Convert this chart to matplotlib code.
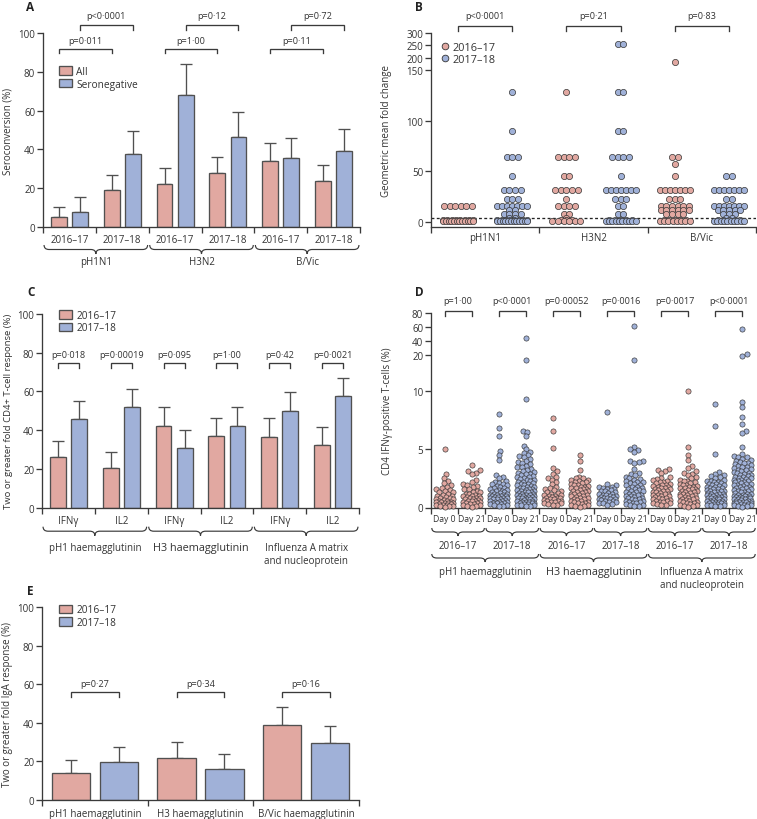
import numpy as np
import matplotlib
matplotlib.use("Agg")
import matplotlib.pyplot as plt
import matplotlib.transforms as mtransforms
from matplotlib.patches import Patch, PathPatch
from matplotlib.lines import Line2D
from matplotlib.path import Path

plt.rcParams['font.family'] = ['Open Sans', 'DejaVu Sans']
plt.rcParams['font.size'] = 7

PINK = '#E1A8A1'
BLUE = '#A0B1D8'
EDGE = '#505050'
AXC = '#3A3A3A'
TXT = '#333333'

# ---------------- data ----------------
# Panel A: seroconversion
a_categories = ['2016–17', '2017–18'] * 3
a_groups = ['pH1N1', 'H3N2', 'B/Vic']
a_all = [5.3, 19.1, 22.1, 27.9, 33.8, 23.8]
a_all_upper = [10.5, 26.7, 30.3, 36.0, 43.1, 32.1]
a_seroneg = [7.9, 37.6, 67.9, 46.6, 35.5, 39.0]
a_seroneg_upper = [15.7, 49.7, 84.0, 59.1, 45.9, 50.3]
a_p_all = ['p=0·011', 'p=1·00', 'p=0·11']
a_p_seroneg = ['p<0·0001', 'p=0·12', 'p=0·72']

# Panel B: geometric mean fold change (per subject)
b_groups = ['pH1N1', 'H3N2', 'B/Vic']
b_pvals = ['p<0·0001', 'p=0·21', 'p=0·83']
b_1617_pH1N1 = [16, 16, 16, 16, 16, 16, 2, 2, 2, 2, 2, 2, 2, 2, 1, 1, 1, 1, 1, 1, 1, 1, 1, 1, 1, 1]
b_1617_H3N2 = [128, 64, 64, 64, 64, 45, 45, 32, 32, 32, 32, 32, 22.6, 16, 16, 16, 16, 8, 8, 4,
               2, 2, 2, 1, 1, 1, 1, 1, 1]
b_1617_BVic = [181, 64, 64, 57, 45, 32, 32, 32, 32, 32, 32, 32, 22.6, 22.6, 22.6, 16, 16, 16, 16, 16, 16,
               11.3, 11.3, 11.3, 11.3, 11.3, 11.3, 8, 8, 8, 8, 2, 2, 2, 2, 2, 1, 1, 1, 1, 1, 1, 1, 1]
b_1718_pH1N1 = [128, 90, 64, 64, 64, 45, 32, 32, 32, 32, 22.6, 22.6, 22.6, 16, 16, 16, 16, 16, 16, 16,
                11.3, 11.3, 8, 8, 8, 8, 4, 4, 2, 2, 2, 2, 2, 2, 2, 2, 1, 1, 1, 1, 1, 1, 1, 1, 1, 1, 1, 1]
b_1718_H3N2 = [256, 256, 128, 128, 90, 90, 64, 64, 64, 64, 45, 32, 32, 32, 32, 32, 32, 32, 22.6, 22.6, 22.6,
               16, 16, 8, 8, 2, 2, 2, 2, 2, 1, 1, 1, 1, 1, 1, 1, 1, 1, 1]
b_1718_BVic = [45, 45, 32, 32, 32, 32, 32, 32, 32, 22.6, 22.6, 16, 16, 16, 16, 16, 16, 16,
               11.3, 11.3, 11.3, 11.3, 11.3, 8, 8, 8, 4, 4, 2, 2, 2, 2, 2, 1, 1, 1, 1, 1, 1, 1, 1, 1, 1]
b_threshold = 4

# Panel C: CD4 T-cell response
c_categories = ['IFNγ', 'IL2'] * 3
c_groups = ['pH1 haemagglutinin', 'H3 haemagglutinin', 'Influenza A matrix\nand nucleoprotein']
c_1617 = [26.0, 20.5, 42.2, 36.8, 36.7, 32.2]
c_1617_upper = [34.6, 28.9, 51.8, 46.3, 46.1, 41.5]
c_1718 = [45.6, 52.2, 31.0, 42.2, 50.1, 57.5]
c_1718_upper = [55.2, 61.4, 40.3, 51.8, 59.6, 66.8]
c_pvals = ['p=0·018', 'p=0·00019', 'p=0·095', 'p=1·00', 'p=0·42', 'p=0·0021']

# Panel D: CD4 IFNg-positive T cells (%)
d_categories = ['Day 0', 'Day 21'] * 6
d_seasons = ['2016–17', '2017–18'] * 3
d_groups = c_groups
d_pvals = ['p=1·00', 'p<0·0001', 'p=0·00052', 'p=0·0016', 'p=0·0017', 'p<0·0001']
d_pH1_1617_d0 = [5.0, 2.85, 2.5, 2.3, 2.1, 1.95, 1.8, 1.7, 1.6, 1.5, 1.4, 1.35, 1.3, 1.2, 1.1, 1.0, 0.95, 0.9,
                 0.85, 0.8, 0.75, 0.7, 0.65, 0.6, 0.55, 0.5, 0.5, 0.45, 0.4, 0.4, 0.35, 0.3, 0.3, 0.25, 0.2,
                 0.2, 0.15, 0.1, 0.1, 0.05]
d_pH1_1617_d21 = [3.65, 3.2, 3.1, 3.0, 2.85, 2.4, 2.2, 2.0, 1.9, 1.85, 1.75, 1.6, 1.55, 1.4, 1.35, 1.3, 1.2,
                  1.15, 1.1, 1.0, 1.0, 0.95, 0.9, 0.85, 0.8, 0.8, 0.75, 0.7, 0.65, 0.6, 0.6, 0.55, 0.5, 0.45,
                  0.4, 0.35, 0.3, 0.3, 0.25, 0.2, 0.15, 0.1, 0.05]
d_pH1_1718_d0 = [8.0, 6.8, 6.15, 4.85, 4.5, 4.1, 2.8, 2.6, 2.5, 2.3, 2.2, 2.1, 2.0, 2.0, 1.9, 1.85, 1.8, 1.7,
                 1.65, 1.6, 1.5, 1.5, 1.45, 1.4, 1.3, 1.3, 1.25, 1.2, 1.15, 1.1, 1.1, 1.05, 1.0, 1.0, 0.95,
                 0.9, 0.9, 0.85, 0.8, 0.8, 0.75, 0.7, 0.7, 0.65, 0.6, 0.55, 0.5, 0.5, 0.45, 0.4, 0.4, 0.35,
                 0.3, 0.3, 0.25, 0.2, 0.15, 0.1]
d_pH1_1718_d21 = [45, 18.6, 9.3, 6.6, 6.45, 6.1, 5.3, 5.0, 4.8, 4.7, 4.5, 4.4, 4.3, 4.2, 4.0, 3.9, 3.85, 3.7,
                  3.6, 3.5, 3.45, 3.3, 3.2, 3.1, 3.05, 3.0, 2.9, 2.85, 2.8, 2.7, 2.65, 2.6, 2.5, 2.45, 2.4,
                  2.35, 2.3, 2.2, 2.15, 2.1, 2.05, 2.0, 1.95, 1.9, 1.85, 1.8, 1.75, 1.7, 1.65, 1.6, 1.55, 1.5,
                  1.5, 1.45, 1.4, 1.35, 1.3, 1.3, 1.25, 1.2, 1.15, 1.1, 1.1, 1.05, 1.0, 1.0, 0.95, 0.9, 0.9,
                  0.85, 0.8, 0.8, 0.75, 0.7, 0.7, 0.65, 0.6, 0.6, 0.55, 0.5, 0.5, 0.45, 0.4, 0.4, 0.35, 0.3,
                  0.3, 0.25, 0.2, 0.2, 0.15, 0.1]
d_H3_1617_d0 = [7.65, 6.55, 5.1, 3.4, 3.1, 2.9, 2.6, 2.5, 2.4, 2.2, 2.0, 1.8, 1.7, 1.6, 1.5, 1.4, 1.3, 1.25,
                1.2, 1.1, 1.05, 1.0, 0.95, 0.9, 0.85, 0.8, 0.8, 0.75, 0.7, 0.65, 0.6, 0.6, 0.55, 0.5, 0.45,
                0.4, 0.35, 0.3, 0.25, 0.2]
d_H3_1617_d21 = [4.5, 3.95, 3.2, 2.6, 2.55, 2.5, 2.4, 2.35, 2.3, 2.2, 2.15, 2.1, 2.0, 1.95, 1.9, 1.85, 1.8,
                 1.75, 1.7, 1.65, 1.6, 1.55, 1.5, 1.45, 1.4, 1.35, 1.3, 1.25, 1.2, 1.15, 1.1, 1.05, 1.0, 0.95,
                 0.9, 0.85, 0.8, 0.75, 0.7, 0.65, 0.6, 0.55, 0.5, 0.45, 0.4, 0.35, 0.3, 0.25, 0.2, 0.15, 0.1,
                 0.05]
d_H3_1718_d0 = [8.2, 2.05, 1.95, 1.8, 1.75, 1.7, 1.6, 1.55, 1.5, 1.45, 1.4, 1.3, 1.25, 1.2, 1.15, 1.1, 1.05,
                1.0, 0.95, 0.9, 0.9, 0.85, 0.8, 0.75, 0.7, 0.7, 0.65, 0.6, 0.55, 0.5, 0.45, 0.4, 0.35, 0.3,
                0.2]
d_H3_1718_d21 = [61.5, 18.5, 5.2, 5.0, 4.95, 4.8, 4.0, 3.95, 3.9, 3.85, 3.3, 3.0, 2.9, 2.75, 2.6, 2.5, 2.45,
                 2.4, 2.3, 2.2, 2.15, 2.1, 2.0, 1.95, 1.9, 1.8, 1.75, 1.7, 1.6, 1.55, 1.5, 1.45, 1.4, 1.35,
                 1.3, 1.2, 1.15, 1.1, 1.05, 1.0, 0.95, 0.9, 0.85, 0.8, 0.75, 0.7, 0.65, 0.6, 0.55, 0.5, 0.45,
                 0.4, 0.35, 0.3, 0.25, 0.2, 0.15, 0.1]
d_MNP_1617_d0 = [3.3, 3.2, 3.1, 2.95, 2.6, 2.5, 2.45, 2.4, 2.3, 2.2, 2.15, 2.1, 2.0, 1.95, 1.9, 1.85, 1.8,
                 1.75, 1.7, 1.65, 1.6, 1.55, 1.5, 1.45, 1.4, 1.35, 1.3, 1.25, 1.2, 1.15, 1.1, 1.05, 1.0, 0.95,
                 0.9, 0.85, 0.8, 0.75, 0.7, 0.65, 0.6, 0.55, 0.5, 0.45, 0.4, 0.35, 0.3, 0.25, 0.2]
d_MNP_1617_d21 = [10.0, 5.2, 4.5, 4.05, 3.6, 3.4, 3.1, 3.0, 2.9, 2.75, 2.6, 2.5, 2.4, 2.3, 2.25, 2.2, 2.1,
                  2.0, 1.95, 1.9, 1.85, 1.8, 1.75, 1.7, 1.65, 1.6, 1.55, 1.5, 1.45, 1.4, 1.35, 1.3, 1.25, 1.2,
                  1.15, 1.1, 1.05, 1.0, 0.95, 0.9, 0.85, 0.8, 0.75, 0.7, 0.65, 0.6, 0.55, 0.5, 0.45, 0.4,
                  0.35, 0.3, 0.25, 0.2, 0.15, 0.1, 0.05]
d_MNP_1718_d0 = [8.9, 7.0, 4.55, 3.05, 2.9, 2.8, 2.7, 2.6, 2.5, 2.4, 2.3, 2.25, 2.2, 2.15, 2.1, 2.05, 2.0,
                 1.95, 1.9, 1.85, 1.8, 1.75, 1.7, 1.65, 1.6, 1.55, 1.5, 1.45, 1.4, 1.4, 1.35, 1.3, 1.25, 1.2,
                 1.2, 1.15, 1.1, 1.05, 1.0, 1.0, 0.95, 0.9, 0.9, 0.85, 0.8, 0.8, 0.75, 0.7, 0.7, 0.65, 0.6,
                 0.6, 0.55, 0.5, 0.5, 0.45, 0.4, 0.4, 0.35, 0.3, 0.3, 0.25, 0.2, 0.2, 0.15, 0.1]
d_MNP_1718_d21 = [57.8, 20.5, 19.8, 9.05, 8.65, 7.75, 7.2, 6.55, 6.4, 5.15, 4.6, 4.45, 4.35, 4.3, 4.2, 4.1,
                  4.0, 3.9, 3.85, 3.8, 3.7, 3.65, 3.6, 3.5, 3.45, 3.4, 3.3, 3.25, 3.2, 3.1, 3.05, 3.0, 2.95,
                  2.9, 2.8, 2.75, 2.7, 2.65, 2.6, 2.55, 2.5, 2.45, 2.4, 2.35, 2.3, 2.25, 2.2, 2.15, 2.1, 2.05,
                  2.0, 1.95, 1.9, 1.85, 1.8, 1.75, 1.7, 1.65, 1.6, 1.55, 1.5, 1.45, 1.4, 1.35, 1.3, 1.25, 1.2,
                  1.15, 1.1, 1.05, 1.0, 1.0, 0.95, 0.9, 0.9, 0.85, 0.8, 0.8, 0.75, 0.7, 0.7, 0.65, 0.6, 0.6,
                  0.55, 0.5, 0.5, 0.45, 0.4, 0.4, 0.35, 0.3, 0.3, 0.25, 0.2, 0.2, 0.15, 0.1, 0.05]

# Panel E: IgA response
e_categories = ['pH1 haemagglutinin', 'H3 haemagglutinin', 'B/Vic haemagglutinin']
e_1617 = [13.8, 22.0, 38.9]
e_1617_upper = [20.9, 30.3, 48.1]
e_1718 = [19.6, 16.3, 29.8]
e_1718_upper = [27.5, 23.9, 38.2]
e_pvals = ['p=0·27', 'p=0·34', 'p=0·16']

# ---------------- helpers ----------------
W, H = 757, 820
fig = plt.figure(figsize=(W / 100, H / 100), dpi=100)
fig.patch.set_facecolor('white')


def add_ax(l, t, r, b):
    return fig.add_axes([l / W, 1 - b / H, (r - l) / W, (b - t) / H])


def style(ax):
    for s in ('top', 'right'):
        ax.spines[s].set_visible(False)
    for s in ('left', 'bottom'):
        ax.spines[s].set_color(AXC)
        ax.spines[s].set_linewidth(0.95)
    ax.tick_params(axis='both', which='major', color=AXC, width=0.95, length=4.3,
                   labelsize=7, labelcolor=TXT, pad=1.3)
    ax.tick_params(axis='x', which='minor', length=0, labelsize=7, labelcolor=TXT)
    ax.set_facecolor('none')


def px_h(ax):
    return ax.get_position().height * H


def blend(ax):
    return mtransforms.blended_transform_factory(ax.transData, ax.transAxes)


def brace(ax, x0, x1, top_px, h=9.0, r=5.0):
    tr = blend(ax)
    X0 = tr.transform((x0, 0))[0]
    X1 = tr.transform((x1, 0))[0]
    Xm = 0.5 * (X0 + X1)
    Yb = ax.transAxes.transform((0, 0))[1]
    yt = Yb - top_px
    ym = yt - h * 0.5
    ytip = yt - h
    verts = [(X0, yt), (X0, ym), (X0 + r, ym), (Xm - r, ym), (Xm, ym), (Xm, ytip),
             (Xm, ym), (Xm + r, ym), (X1 - r, ym), (X1, ym), (X1, yt)]
    codes = [Path.MOVETO, Path.CURVE3, Path.CURVE3, Path.LINETO, Path.CURVE3, Path.CURVE3,
             Path.CURVE3, Path.CURVE3, Path.LINETO, Path.CURVE3, Path.CURVE3]
    vf = fig.transFigure.inverted().transform(verts)
    fig.add_artist(PathPatch(Path(vf, codes), transform=fig.transFigure, fill=False,
                             edgecolor=AXC, lw=0.85))


def label_below(ax, x, baseline_px, text, fs=7, step=13.0):
    tr = blend(ax)
    hp = px_h(ax)
    for i, line in enumerate(text.split('\n')):
        ax.text(x, -(baseline_px + i * step) / hp, line, transform=tr, ha='center',
                va='baseline', fontsize=fs, color=TXT, clip_on=False)


def bracket(ax, x0, x1, y, leg, text, ty, trans=None, fs=6.6):
    trans = trans if trans is not None else ax.transData
    ax.plot([x0, x0, x1, x1], [y - leg, y, y, y - leg], color=AXC, lw=0.95,
            transform=trans, clip_on=False, solid_joinstyle='miter')
    ax.text((x0 + x1) / 2, ty, text, ha='center', va='center', transform=trans,
            fontsize=fs, color=TXT, clip_on=False)


def bars(ax, v1, u1, v2, u2, off, width):
    n = len(v1)
    x = np.arange(n) + 0.5
    for xx, v, u, col in ((x - off, v1, u1, PINK), (x + off, v2, u2, BLUE)):
        v = np.asarray(v)
        u = np.asarray(u)
        ax.errorbar(xx, v, yerr=[np.zeros(n), u - v], fmt='none', ecolor=EDGE,
                    elinewidth=0.95, capsize=4.5, capthick=0.95, zorder=1)
        ax.bar(xx, v, width, color=col, edgecolor=EDGE, lw=0.95, zorder=2)
    return x


def cat_axis(ax, n, labels, pad):
    ax.set_xlim(0, n)
    ax.set_xticks(np.arange(n + 1))
    ax.set_xticklabels([])
    ax.set_xticks(np.arange(n) + 0.5, minor=True)
    ax.set_xticklabels(labels, minor=True)
    ax.tick_params(axis='x', which='minor', pad=pad)


def piecewise(xp, fp):
    xp = np.asarray(xp, float)
    fp = np.asarray(fp, float)
    s0 = (fp[1] - fp[0]) / (xp[1] - xp[0])
    s1 = (fp[-1] - fp[-2]) / (xp[-1] - xp[-2])

    def f(v):
        v = np.asarray(v, float)
        out = np.interp(v, xp, fp)
        out = np.where(v < xp[0], fp[0] + (v - xp[0]) * s0, out)
        out = np.where(v > xp[-1], fp[-1] + (v - xp[-1]) * s1, out)
        return out
    return f


def swarm(ypix, d, maxw, step=0.5):
    n = len(ypix)
    order = np.argsort(ypix, kind='stable')
    c = np.arange(step, maxw + 1e-9, step)
    cands = np.concatenate([[0.0], np.ravel(np.column_stack([c, -c]))])
    xs = np.zeros(n)
    px, py = [], []
    for i in order:
        y = ypix[i]
        if px:
            PX = np.array(px)
            PY = np.array(py)
            m = np.abs(PY - y) < d
            if m.any():
                dist = np.sqrt((cands[:, None] - PX[m][None, :]) ** 2 +
                               (PY[m][None, :] - y) ** 2).min(axis=1)
                ok = dist >= d
                xs[i] = cands[np.argmax(ok)] if ok.any() else cands[np.argmax(dist)]
        px.append(xs[i])
        py.append(y)
    return xs


def rows(vals, d, maxw):
    vals = np.asarray(vals, float)
    xs = np.zeros(len(vals))
    for v in np.unique(vals):
        idx = np.where(vals == v)[0]
        k = len(idx)
        stepw = min(d, 2 * maxw / (k - 1)) if k > 1 else 0
        xs[idx] = (np.arange(k) - (k - 1) / 2) * stepw
    return xs


def x_per_px(ax):
    lo, hi = ax.get_xlim()
    return (hi - lo) / (ax.get_position().width * W)


def bar_legend(ax, labels, x, y):
    hs = [Patch(facecolor=PINK, edgecolor=EDGE, lw=0.95, label=labels[0]),
          Patch(facecolor=BLUE, edgecolor=EDGE, lw=0.95, label=labels[1])]
    ax.legend(handles=hs, loc='upper left', bbox_to_anchor=(x, y), frameon=False,
              fontsize=7.3, handlelength=1.25, handleheight=0.9, handletextpad=0.45,
              labelspacing=0.15, borderpad=0, borderaxespad=0, labelcolor=TXT)


def yticks_std(ax):
    ax.set_ylim(0, 100)
    ax.set_yticks([0, 20, 40, 60, 80, 100])


# ---------------- Panel A ----------------
axA = add_ax(43, 34, 360, 228)
style(axA)
yticks_std(axA)
cat_axis(axA, 6, a_categories, 5.0)
xA = bars(axA, a_all, a_all_upper, a_seroneg, a_seroneg_upper, 0.2, 0.3)
for g in range(3):
    i0, i1 = 2 * g, 2 * g + 1
    bracket(axA, xA[i0] - 0.2, xA[i1] - 0.2, 91.6, 1.9, a_p_all[g], 96.3)
    bracket(axA, xA[i0] + 0.2, xA[i1] + 0.2, 104.0, 2.3, a_p_seroneg[g], 108.8)
    brace(axA, 2 * g + 0.02, 2 * g + 1.98, 18, h=9)
    label_below(axA, 2 * g + 1, 37, a_groups[g])
axA.set_ylabel('Seroconversion (%)', fontsize=7, color=TXT)
axA.yaxis.set_label_coords(-0.092, 0.5)
bar_legend(axA, ['All', 'Seronegative'], 0.05, 0.83)

# ---------------- Panel B ----------------
axB = add_ax(431, 34, 756, 228)
style(axB)
fB = piecewise([0, 150, 300], [0, 152, 189])
iB = piecewise([0, 152, 189], [0, 150, 300])
axB.set_yscale('function', functions=(fB, iB))
axB.set_ylim(-5, 300)
axB.set_yticks([0, 50, 100, 150, 200, 250, 300])
axB.set_yticklabels(['0', '50', '100', '150', '200', '250', '300'])
cat_axis(axB, 3, b_groups, 3.3)
axB.set_autoscale_on(False)
axB.axhline(b_threshold, color='#222222', lw=0.95, ls=(0, (2.2, 1.8)), zorder=1)
b_sets = [(b_1617_pH1N1, b_1718_pH1N1), (b_1617_H3N2, b_1718_H3N2), (b_1617_BVic, b_1718_BVic)]
kx = x_per_px(axB)
trB = blend(axB)
for g, (s1, s2) in enumerate(b_sets):
    for k, (vals, col) in enumerate(((s1, PINK), (s2, BLUE))):
        xc = g + 0.25 + 0.5 * k
        off = rows(vals, 5.6, 15.0) * kx
        axB.scatter(xc + off, vals, s=20, color=col, edgecolor='#333333', linewidth=0.5,
                    zorder=3, clip_on=False)
    bracket(axB, g + 0.25, g + 0.75, 1.036, 0.026, b_pvals[g], 1.088, trans=trB)
axB.set_ylabel('Geometric mean fold change', fontsize=7, color=TXT)
axB.yaxis.set_label_coords(-0.12, 0.5)
hB = [Line2D([], [], ls='none', marker='o', ms=4.8, mfc=PINK, mec='#333333', mew=0.6, label='2016–17'),
      Line2D([], [], ls='none', marker='o', ms=4.8, mfc=BLUE, mec='#333333', mew=0.6, label='2017–18')]
axB.legend(handles=hB, loc='upper left', bbox_to_anchor=(0.03, 0.955), frameon=False, fontsize=7.8,
           handlelength=0.7, handletextpad=0.35, labelspacing=0.1, borderpad=0, borderaxespad=0,
           labelcolor=TXT)

# ---------------- Panel C ----------------
axC = add_ax(42, 315, 359, 508.7)
style(axC)
yticks_std(axC)
cat_axis(axC, 6, c_categories, 5.3)
xC = bars(axC, c_1617, c_1617_upper, c_1718, c_1718_upper, 0.2, 0.3)
for i in range(6):
    bracket(axC, xC[i] - 0.2, xC[i] + 0.2, 74.5, 2.3, c_pvals[i], 79.3)
for g in range(3):
    brace(axC, 2 * g + 0.02, 2 * g + 1.98, 19, h=9)
    label_below(axC, 2 * g + 1, 42, c_groups[g], fs=7.8 if g == 1 else 7)
axC.set_ylabel('Two or greater fold CD4+ T-cell response (%)', fontsize=6.8, color=TXT)
axC.yaxis.set_label_coords(-0.09, 0.5)
bar_legend(axC, ['2016–17', '2017–18'], 0.054, 1.021)

# ---------------- Panel D ----------------
axD = add_ax(431, 314.3, 756, 508.5)
style(axD)
fD = piecewise([0, 10, 20, 80], [0, 116.5, 152.5, 194])
iD = piecewise([0, 116.5, 152.5, 194], [0, 10, 20, 80])
axD.set_yscale('function', functions=(fD, iD))
axD.set_ylim(0, 80)
axD.set_yticks([0, 5, 10, 20, 40, 60, 80])
axD.set_yticklabels(['0', '5', '10', '20', '40', '60', '80'])
cat_axis(axD, 12, d_categories, 5.0)
axD.tick_params(axis='x', which='minor', labelsize=6.2)
axD.set_autoscale_on(False)
d_cols = [d_pH1_1617_d0, d_pH1_1617_d21, d_pH1_1718_d0, d_pH1_1718_d21,
          d_H3_1617_d0, d_H3_1617_d21, d_H3_1718_d0, d_H3_1718_d21,
          d_MNP_1617_d0, d_MNP_1617_d21, d_MNP_1718_d0, d_MNP_1718_d21]
kxD = x_per_px(axD)
trD = blend(axD)
for i, vals in enumerate(d_cols):
    vals = np.asarray(vals, float)
    xc = i + 0.5
    ypix = axD.transData.transform(np.column_stack([np.full(len(vals), xc), vals]))[:, 1]
    off = swarm(ypix, 4.3, 8.5) * kxD
    col = PINK if (i // 2) % 2 == 0 else BLUE
    axD.scatter(xc + off, vals, s=14, color=col, edgecolor='#333333', linewidth=0.45,
                zorder=3, clip_on=False)
for k in range(6):
    bracket(axD, 2 * k + 0.5, 2 * k + 1.5, 1.013, 0.026, d_pvals[k], 1.068, trans=trD)
    brace(axD, 2 * k + 0.03, 2 * k + 1.97, 20.5, h=8)
    label_below(axD, 2 * k + 1, 40.5, d_seasons[k])
for g in range(3):
    brace(axD, 4 * g + 0.03, 4 * g + 3.97, 46.5, h=8)
    label_below(axD, 4 * g + 2, 66.5, d_groups[g], fs=7.8 if g == 1 else 7)
axD.set_ylabel('CD4 IFNγ-positive T-cells (%)', fontsize=7, color=TXT)
axD.yaxis.set_label_coords(-0.117, 0.5)

# ---------------- Panel E ----------------
axE = add_ax(42, 608.3, 359, 801)
style(axE)
yticks_std(axE)
cat_axis(axE, 3, e_categories, 5.5)
xE = bars(axE, e_1617, e_1617_upper, e_1718, e_1718_upper, 0.227, 0.36)
for i in range(3):
    bracket(axE, xE[i] - 0.227, xE[i] + 0.227, 55.9, 2.3, e_pvals[i], 60.7)
axE.set_ylabel('Two or greater fold IgA response (%)', fontsize=7, color=TXT)
axE.yaxis.set_label_coords(-0.09, 0.5)
bar_legend(axE, ['2016–17', '2017–18'], 0.054, 1.015)

# ---------------- panel letters ----------------
for letter, (lx, ly) in {'A': (26, 1), 'B': (415, 1), 'C': (27, 286), 'D': (415, 286),
                         'E': (27, 585)}.items():
    fig.text(lx / W, 1 - ly / H, letter, ha='left', va='top', fontsize=8.5,
             fontweight='bold', color='#222222')

fig.savefig('out.png', dpi=100)
